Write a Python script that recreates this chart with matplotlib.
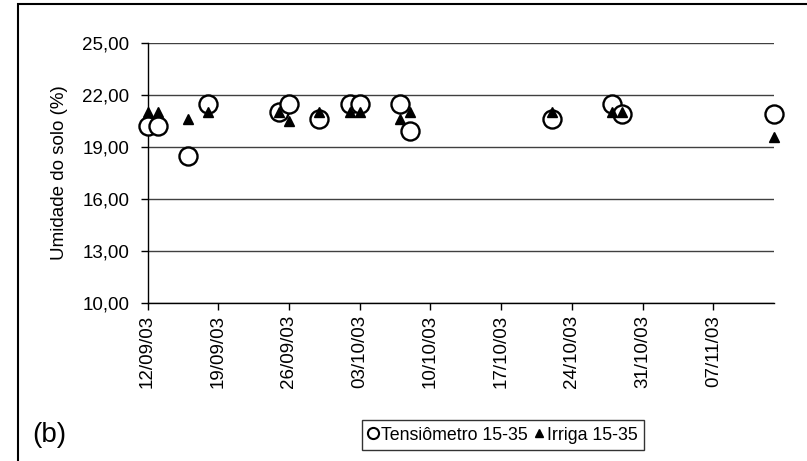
import datetime as dt
import matplotlib
matplotlib.use("Agg")
import matplotlib.pyplot as plt
import matplotlib.dates as mdates
from matplotlib.lines import Line2D
from matplotlib.patches import Rectangle

plt.rcParams['font.family'] = ['Liberation Sans', 'DejaVu Sans']

# dates of the readings (dd/mm/yy) and soil moisture (%)
tens_dates = ["12/09/03", "13/09/03", "16/09/03", "18/09/03", "25/09/03", "26/09/03",
              "29/09/03", "02/10/03", "03/10/03", "07/10/03", "08/10/03", "22/10/03",
              "28/10/03", "29/10/03", "13/11/03"]
tens_values = [20.2, 20.2, 18.5, 21.5, 21.0, 21.5, 20.6, 21.5, 21.5, 21.5, 19.9, 20.6,
               21.5, 20.9, 20.9]

irriga_dates = ["12/09/03", "13/09/03", "16/09/03", "18/09/03", "25/09/03", "26/09/03",
                "29/09/03", "02/10/03", "03/10/03", "07/10/03", "08/10/03", "22/10/03",
                "28/10/03", "29/10/03", "13/11/03"]
irriga_values = [21.0, 21.0, 20.6, 21.0, 21.0, 20.5, 21.0, 21.0, 21.0, 20.6, 21.0, 21.0,
                 21.0, 21.0, 19.6]

y_ticks = [10, 13, 16, 19, 22, 25]


def to_date(s):
    return dt.datetime.strptime(s, "%d/%m/%y")


fig = plt.figure(figsize=(8.07, 4.61), dpi=100)
ax = fig.add_axes([147.5 / 807, 1 - 303 / 461, (774 - 147.5) / 807, (303 - 43) / 461])

ax.plot([to_date(d) for d in tens_dates], tens_values, linestyle='none', marker='o',
        ms=13, mfc='white', mec='black', mew=1.7, zorder=3, clip_on=False)
ax.plot([to_date(d) for d in irriga_dates], irriga_values, linestyle='none', marker='^',
        ms=7, mfc='black', mec='black', zorder=4, clip_on=False)

ax.set_xlim(to_date("12/09/03"), to_date("13/11/03"))
ax.set_ylim(10, 25)
ax.set_yticks(y_ticks)
ax.set_yticklabels([f"{v:.2f}".replace('.', ',') for v in y_ticks])

ticks = [to_date("12/09/03") + dt.timedelta(days=7 * i) for i in range(9)]
ax.set_xticks(ticks)
ax.xaxis.set_major_formatter(mdates.DateFormatter("%d/%m/%y"))
plt.setp(ax.get_xticklabels(), rotation=90)

ax.grid(axis='y', color='#404040', lw=1)
ax.set_axisbelow(True)
for s in ['top', 'right']:
    ax.spines[s].set_visible(False)
for s in ['left', 'bottom']:
    ax.spines[s].set_color('black')
    ax.spines[s].set_linewidth(1)
ax.tick_params(axis='both', direction='out', length=5, width=1, labelsize=13.5, colors='black')
ax.tick_params(axis='y', pad=8)
ax.set_ylabel("Umidade do solo (%)", fontsize=13.5, labelpad=10)

handles = [Line2D([], [], linestyle='none', marker='o', ms=8, mfc='white', mec='black', mew=1.5),
           Line2D([], [], linestyle='none', marker='^', ms=5.5, mfc='black', mec='black')]
leg = fig.legend(handles, ["Tensiômetro 15-35", "Irriga 15-35"], loc='center',
                 bbox_to_anchor=(503 / 807, 1 - 435 / 461), ncol=2, fontsize=12.8,
                 frameon=True, fancybox=False, edgecolor='black', handlelength=0.5,
                 handletextpad=0.2, columnspacing=0.4, borderpad=0.35, borderaxespad=0)
leg.get_frame().set_linewidth(1)

fig.text(32 / 807, 1 - 435 / 461, "(b)", fontsize=20, va='center', ha='left')

fig.patches.append(Rectangle((18 / 807, -0.5), 2, 1.5 - 3.5 / 461, transform=fig.transFigure,
                             fill=False, edgecolor='black', lw=1.5))

fig.savefig("out.png", dpi=100)
